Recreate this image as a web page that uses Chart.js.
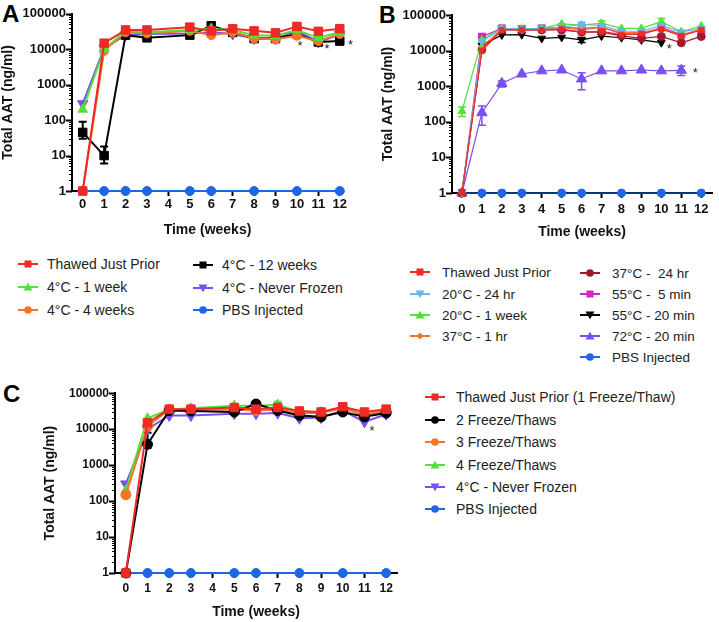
<!DOCTYPE html>
<html>
<head>
<meta charset="utf-8">
<script src="https://cdn.jsdelivr.net/npm/chart.js@4/dist/chart.umd.min.js"></script>
<style>
body { margin: 0; background: #fff; width: 719px; height: 622px; position: relative; overflow: hidden;
       font-family: "Liberation Sans", Arial, sans-serif; }
canvas { position: absolute; }
.plabel { position: absolute; font-weight: bold; line-height: 1; color: #000; }
.leg { position: absolute; white-space: pre; display: flex; align-items: center; height: 18px; color: #222; }
.leg svg { flex: none; }
</style>
</head>
<body>
<div class="plabel" style="left:2px;top:2px;font-size:24px">A</div>
<div class="plabel" style="left:379px;top:4px;font-size:23px">B</div>
<div class="plabel" style="left:3px;top:382px;font-size:24px">C</div>
<canvas id="chartA" width="360" height="245" style="left:0;top:0"></canvas>
<canvas id="chartB" width="359" height="250" style="left:360px;top:0"></canvas>
<canvas id="chartC" width="420" height="242" style="left:0;top:380px"></canvas>
<div id="legends"></div>
<script>
// weeks
const allWeeks = [0,1,2,3,4,5,6,7,8,9,10,11,12];
const weeksA = [0,1,2,3,5,6,7,8,9,10,11,12];
const weeksB = [0,1,2,3,4,5,6,7,8,9,10,11,12];
const weeksC = [0,1,2,3,5,6,7,8,9,10,11,12];
const pbsWeeks = [0,1,2,3,5,6,8,10,12];
const pbsVals = [1,1,1,1,1,1,1,1,1];

// panel A (ng/ml)
const aThawed  = [1,14800,35000,35000,42000,33000,38000,33000,29000,44000,32000,38000];
const aWeek1   = [200,10000,33000,30000,35000,38000,35000,25000,24000,35000,21000,30000];
const aWeeks4  = [1,9000,30000,28000,33000,25000,30000,20000,19000,24000,17000,27000];
const aWeeks12 = [45,10,25000,21000,25000,46000,30000,20000,20000,27000,16000,17000];
const aNever   = [290,10700,25000,27000,28000,30000,27000,20000,20000,33000,16000,26000];
const aWeeks12Err = [[30,90],[6,18],null,null,null,null,null,null,null,null,null,null];

// panel B
const bThawed = [1,10000,38000,38000,38000,40000,33000,35000,28000,30000,40000,26000,38000];
const b20c24h = [1,18000,42000,40000,42000,45000,55000,50000,35000,35000,50000,33000,42000];
const b20c1w  = [200,20000,42000,40000,42000,56000,52000,59000,42000,42000,65000,34000,49000];
const b37c1h  = [1,13000,40000,38000,40000,45000,38000,45000,32000,32000,42000,27000,40000];
const b37c24h = [1,10500,38000,38000,38000,38000,33000,33000,26000,22000,25000,16600,25000];
const b55c5m  = [1,24500,42000,40000,42000,45000,42000,45000,30000,28000,45000,28000,38000];
const b55c20m = [1,14000,27500,28000,22000,23500,20000,25500,23000,20000,16700,null,null];
const b72c20m = [1,180,1200,2200,2700,2850,1600,2700,2700,2850,2700,2800,null];
const b20c1wErr  = [[140,260],null,null,null,null,null,null,[50000,68000],null,null,[50000,80000],null,null];
const b55c20mErr = [null,null,null,null,null,null,[17000,23500],null,null,null,null,null,null];
const b72c20mErr = [null,[80,280],[950,1400],null,null,null,[800,2400],null,null,null,null,[2000,3700],null];

// panel C
const cThawed = [1,15000,36000,36000,40000,36000,40000,32000,30000,42000,30000,36000];
const c2ft    = [1,3800,33000,32000,30000,50000,33000,24000,22000,30000,22000,28000];
const c3ft    = [150,12000,35000,35000,35000,33000,35000,28000,28000,38000,25000,33000];
const c4ft    = [200,20000,35000,38000,45000,45000,48000,30000,30000,40000,24000,32000];
const cNever  = [300,10000,24000,24000,27000,27000,28000,20000,21000,33000,16000,26000];
const c2ftErr = [null,[3000,8000],null,null,null,[42000,60000],null,null,null,null,null,null];
const c4ftErr = [null,null,null,null,null,null,[40000,58000],null,null,null,null,null];

// significance stars [week, value]
const starsA = [[10.15,14500],[11.4,12000],[12.5,16000]];
const starsB = [[10.4,13500],[11.7,2700]];
const starsC = [[11.35,10500]];

const FONT = '"Liberation Sans", Arial, sans-serif';
const RED = '#ee2a26', GREEN = '#52e03a', ORANGE = '#f47428', BLACK = '#000000',
      PURPLE = '#7a4ef0', BLUE = '#1f66e6', LIGHTBLUE = '#68b6ea', DARKRED = '#a3182c', MAGENTA = '#d424c4';

const logTickValues = [];
for (let e = 0; e < 5; e++) for (let m = 1; m < 10; m++) logTickValues.push(m * Math.pow(10, e));
logTickValues.push(100000);
const isPow10 = v => Math.abs(Math.log10(v) - Math.round(Math.log10(v))) < 1e-9;

const series = (weeks, vals) => weeks.map((w, i) => ({ x: w, y: vals[i] }));

function ds(label, weeks, vals, color, style, radius, width, err) {
  return {
    label, data: series(weeks, vals), marker: style, errorBars: err || null,
    borderColor: color, backgroundColor: color,
    pointBackgroundColor: color, pointBorderColor: color,
    pointStyle: style === 'down' ? 'triangle' : style,
    pointRotation: style === 'down' ? 180 : 0,
    pointRadius: radius, pointHoverRadius: radius, pointBorderWidth: 1,
    borderWidth: width, tension: 0, clip: false
  };
}

// error bars drawn under the markers
const errorBars = {
  id: 'errorBars',
  beforeDatasetsDraw(chart) {
    const ctx = chart.ctx, x = chart.scales.x, y = chart.scales.y;
    chart.data.datasets.forEach(d => {
      if (!d.errorBars) return;
      ctx.save();
      ctx.strokeStyle = d.borderColor;
      ctx.lineWidth = Math.max(1.5, d.borderWidth);
      d.errorBars.forEach((e, i) => {
        if (!e) return;
        const px = x.getPixelForValue(d.data[i].x);
        const lo = y.getPixelForValue(e[0]), hi = y.getPixelForValue(e[1]);
        ctx.beginPath();
        ctx.moveTo(px, lo); ctx.lineTo(px, hi);
        ctx.moveTo(px - 4, hi); ctx.lineTo(px + 4, hi);
        ctx.moveTo(px - 4, lo); ctx.lineTo(px + 4, lo);
        ctx.stroke();
      });
      ctx.restore();
    });
  }
};

// major / minor ticks on the log axis
const logTicks = {
  id: 'logTicks',
  afterDraw(chart) {
    const ctx = chart.ctx, y = chart.scales.y;
    ctx.save();
    ctx.strokeStyle = '#000';
    y.ticks.forEach(t => {
      const p = Math.round(y.getPixelForValue(t.value)) + 0.5;
      const major = isPow10(t.value);
      ctx.lineWidth = major ? 2 : 1;
      ctx.beginPath();
      ctx.moveTo(y.right, p);
      ctx.lineTo(y.right - (major ? 6 : 3), p);
      ctx.stroke();
    });
    ctx.restore();
  }
};

const starMarks = {
  id: 'starMarks',
  afterDatasetsDraw(chart, args, opts) {
    const ctx = chart.ctx, x = chart.scales.x, y = chart.scales.y;
    ctx.save();
    ctx.fillStyle = '#222';
    ctx.font = '13px ' + FONT;
    ctx.textAlign = 'center';
    ctx.textBaseline = 'middle';
    (opts.marks || []).forEach(m => ctx.fillText('*', x.getPixelForValue(m[0]), y.getPixelForValue(m[1]) + 3));
    ctx.restore();
  }
};

function makeChart(id, datasets, o) {
  return new Chart(document.getElementById(id), {
    type: 'line',
    data: { datasets },
    plugins: [errorBars, logTicks, starMarks],
    options: {
      responsive: false, animation: false, devicePixelRatio: 1,
      layout: { padding: { top: o.top, right: o.right, left: 0, bottom: 0 } },
      plugins: { legend: { display: false }, tooltip: { enabled: false }, starMarks: { marks: o.stars } },
      scales: {
        x: {
          type: 'linear', min: -0.5, max: o.xMax,
          afterBuildTicks: s => { s.ticks = allWeeks.map(v => ({ value: v })); },
          afterFit: s => { s.height = o.xH; },
          border: { color: '#000', width: 2 },
          grid: { drawOnChartArea: false, drawTicks: true, tickLength: 5, tickWidth: 2, color: '#000' },
          ticks: { autoSkip: false, maxRotation: 0, padding: o.xPad, color: '#111',
                   font: { family: FONT, size: o.tickSize, weight: 'bold' } },
          title: { display: true, text: 'Time (weeks)', color: '#111',
                   font: { family: FONT, size: 14, weight: 'bold' }, padding: { top: 0, bottom: o.xTitlePad } }
        },
        y: {
          type: 'logarithmic', min: 1, max: 100000,
          afterBuildTicks: s => { s.ticks = logTickValues.map(v => ({ value: v })); },
          afterFit: s => { s.width = o.yW; },
          border: { color: '#000', width: 2 },
          grid: { drawOnChartArea: false, drawTicks: false },
          ticks: { autoSkip: false, padding: 6, color: '#111',
                   font: { family: FONT, size: o.tickSize, weight: 'bold' },
                   callback: v => isPow10(v) ? String(v) : '' },
          title: { display: true, text: 'Total AAT (ng/ml)', color: '#111',
                   font: { family: FONT, size: 14, weight: 'bold' }, padding: { top: o.yTitlePad, bottom: 0 } }
        }
      }
    }
  });
}

const dsA = [
  ds('Thawed Just Prior', weeksA, aThawed, RED, 'rect', 6, 2),
  ds('4°C - 1 week', weeksA, aWeek1, GREEN, 'triangle', 5.5, 2),
  ds('4°C - 4 weeks', weeksA, aWeeks4, ORANGE, 'circle', 4.5, 2),
  ds('4°C - 12 weeks', weeksA, aWeeks12, BLACK, 'rect', 6, 2, aWeeks12Err),
  ds('4°C - Never Frozen', weeksA, aNever, PURPLE, 'down', 6, 2),
  ds('PBS Injected', pbsWeeks, pbsVals, BLUE, 'circle', 4.5, 2)
];
const dsB = [
  ds('Thawed Just Prior', weeksB, bThawed, RED, 'rect', 3.5, 1.2),
  ds('20°C - 24 hr', weeksB, b20c24h, LIGHTBLUE, 'down', 4.5, 1.2),
  ds('20°C - 1 week', weeksB, b20c1w, GREEN, 'triangle', 4.5, 1.2, b20c1wErr),
  ds('37°C - 1 hr', weeksB, b37c1h, ORANGE, 'rectRot', 3, 1.2),
  ds('37°C -  24 hr', weeksB, b37c24h, DARKRED, 'circle', 4, 1.2),
  ds('55°C -  5 min', weeksB, b55c5m, MAGENTA, 'rect', 5, 1.2),
  ds('55°C - 20 min', weeksB, b55c20m, BLACK, 'down', 4.5, 1.2, b55c20mErr),
  ds('72°C - 20 min', weeksB, b72c20m, PURPLE, 'triangle', 6, 1.2, b72c20mErr),
  ds('PBS Injected', pbsWeeks, pbsVals, BLUE, 'circle', 4, 1.2)
];
const dsC = [
  ds('Thawed Just Prior (1 Freeze/Thaw)', weeksC, cThawed, RED, 'rect', 6, 2),
  ds('2 Freeze/Thaws', weeksC, c2ft, BLACK, 'circle', 5, 2, c2ftErr),
  ds('3 Freeze/Thaws', weeksC, c3ft, ORANGE, 'circle', 5, 2),
  ds('4 Freeze/Thaws', weeksC, c4ft, GREEN, 'triangle', 5.5, 2, c4ftErr),
  ds('4°C - Never Frozen', weeksC, cNever, PURPLE, 'down', 6, 2),
  ds('PBS Injected', pbsWeeks, pbsVals, BLUE, 'circle', 4.5, 2)
];

makeChart('chartA', dsA, { top: 6, right: 17, xMax: 12.15, xH: 54, xPad: 1, xTitlePad: 6.6,
  yW: 72, yTitlePad: 0, tickSize: 13, stars: starsA });
makeChart('chartB', dsB, { top: 15, right: 0, xMax: 12.54, xH: 57, xPad: 4, xTitlePad: 9.6,
  yW: 92, yTitlePad: 19.6, tickSize: 13, stars: starsB });
makeChart('chartC', dsC, { top: 6, right: 23, xMax: 12.5, xH: 49, xPad: 3, xTitlePad: 1.9,
  yW: 115, yTitlePad: 41.6, tickSize: 12, stars: starsC });

// legends
function markerSvg(color, style, lw) {
  let shape;
  if (style === 'rect') shape = `<rect x="6.5" y="2.5" width="7" height="7" fill="${color}"/>`;
  else if (style === 'circle') shape = `<circle cx="10" cy="6" r="3.8" fill="${color}"/>`;
  else if (style === 'triangle') shape = `<polygon points="10,1.8 14.5,9.6 5.5,9.6" fill="${color}"/>`;
  else if (style === 'down') shape = `<polygon points="10,10.2 14.5,2.4 5.5,2.4" fill="${color}"/>`;
  else shape = `<polygon points="10,2.5 13.5,6 10,9.5 6.5,6" fill="${color}"/>`;
  return `<svg width="20" height="12"><line x1="0" y1="6" x2="20" y2="6" stroke="${color}" stroke-width="${lw}"/>${shape}</svg>`;
}
function addLegend(datasets, slots, fontSize, gap) {
  const host = document.getElementById('legends');
  datasets.forEach((d, i) => {
    const [x, y] = slots[i];
    const el = document.createElement('div');
    el.className = 'leg';
    el.style.left = x + 'px';
    el.style.top = (y - 9) + 'px';
    el.style.fontSize = fontSize + 'px';
    el.innerHTML = markerSvg(d.borderColor, d.marker, 2) + `<span style="margin-left:${gap}px">${d.label}</span>`;
    host.appendChild(el);
  });
}
addLegend(dsA, [[18,264],[18,287],[18,310],[193,265],[193,288],[193,310]], 14, 9);
addLegend(dsB, [[410,272],[410,294],[410,315],[410,336],[580,273],[580,294],[580,315],[580,336],[580,357]], 13.5, 12);
addLegend(dsC, [[425,397],[425,420],[425,442],[425,465],[425,487],[425,509]], 14, 11);
</script>
</body>
</html>
